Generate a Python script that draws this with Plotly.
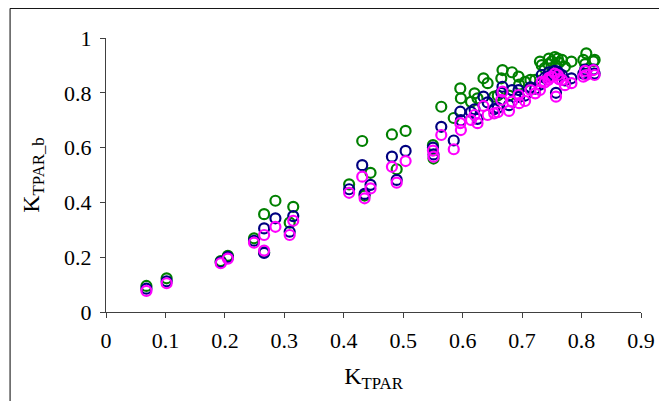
import plotly.graph_objects as go

# Observed K_TPAR (x) and three modelled K_TPAR_b series
k_tpar = [0.068, 0.102, 0.193, 0.205, 0.249, 0.266, 0.266, 0.285, 0.309, 0.315,
          0.409, 0.431, 0.435, 0.445, 0.481, 0.489, 0.504, 0.550, 0.551, 0.564, 0.585,
          0.596, 0.597, 0.614, 0.620, 0.625, 0.635, 0.642, 0.653, 0.659, 0.667,
          0.665, 0.678, 0.683, 0.694, 0.695, 0.705, 0.714, 0.722, 0.730, 0.733,
          0.738, 0.744, 0.745, 0.750, 0.755, 0.757, 0.760, 0.762, 0.767, 0.772,
          0.783, 0.803, 0.806, 0.808, 0.820, 0.822]

green = [0.095, 0.123, 0.186, 0.205, 0.269, 0.357, 0.218, 0.406, 0.326, 0.384,
         0.466, 0.624, 0.425, 0.508, 0.648, 0.521, 0.661, 0.609, 0.560, 0.749, 0.708,
         0.816, 0.780, 0.767, 0.798, 0.780, 0.853, 0.835, 0.786, 0.790, 0.883,
         0.853, 0.790, 0.875, 0.859, 0.830, 0.840, 0.847, 0.847, 0.914, 0.901,
         0.890, 0.905, 0.925, 0.915, 0.930, 0.900, 0.925, 0.910, 0.920, 0.895,
         0.914, 0.920, 0.905, 0.944, 0.915, 0.920]

navy = [0.085, 0.112, 0.182, 0.200, 0.260, 0.305, 0.216, 0.342, 0.293, 0.350,
        0.448, 0.536, 0.431, 0.464, 0.567, 0.482, 0.588, 0.600, 0.575, 0.676, 0.626,
        0.731, 0.700, 0.730, 0.740, 0.705, 0.786, 0.765, 0.740, 0.745, 0.822,
        0.800, 0.755, 0.810, 0.810, 0.785, 0.790, 0.820, 0.815, 0.830, 0.865,
        0.855, 0.860, 0.875, 0.870, 0.880, 0.800, 0.877, 0.870, 0.865, 0.845,
        0.853, 0.870, 0.885, 0.880, 0.885, 0.870]

magenta = [0.077, 0.105, 0.178, 0.195, 0.253, 0.281, 0.224, 0.311, 0.281, 0.333,
           0.435, 0.494, 0.415, 0.451, 0.530, 0.472, 0.551, 0.589, 0.567, 0.646, 0.594,
           0.689, 0.664, 0.701, 0.719, 0.689, 0.752, 0.719, 0.725, 0.729, 0.804,
           0.774, 0.734, 0.768, 0.792, 0.762, 0.770, 0.810, 0.798, 0.810, 0.840,
           0.838, 0.847, 0.855, 0.859, 0.870, 0.786, 0.865, 0.850, 0.847, 0.828,
           0.835, 0.859, 0.880, 0.865, 0.883, 0.865]

x_ticks = [0, 0.1, 0.2, 0.3, 0.4, 0.5, 0.6, 0.7, 0.8, 0.9]
y_ticks = [0, 0.2, 0.4, 0.6, 0.8, 1]

series = [("green", green, "#008000"), ("navy", navy, "#000080"), ("magenta", magenta, "#FF00FF")]

fig = go.Figure()
for name, ys, col in series:
    fig.add_trace(go.Scatter(
        x=k_tpar, y=ys, mode="markers", name=name,
        marker=dict(symbol="circle-open", size=10, color=col, line=dict(width=2.2, color=col)),
        showlegend=False, cliponaxis=False))

font_family = "Liberation Serif"
axis_common = dict(
    showgrid=False, zeroline=False, showline=True, linecolor="#404040", linewidth=1,
    ticks="outside", ticklen=5, tickcolor="#404040", tickwidth=1,
    tickfont=dict(family=font_family, size=22, color="black"),
)

fig.update_layout(
    width=659, height=393,
    margin=dict(l=98, r=20, t=30, b=89),
    font=dict(family=font_family, size=22, color="black"),
    paper_bgcolor="white", plot_bgcolor="white",
    xaxis=dict(range=[0, 0.9], tickvals=x_ticks, ticktext=[f"{v:g}" for v in x_ticks],
               ticklabelstandoff=4,
               title=dict(text="K<sub>TPAR</sub>", font=dict(family=font_family, size=24, color="black"),
                          standoff=14),
               **axis_common),
    yaxis=dict(range=[0, 1], tickvals=y_ticks, ticktext=[f"{v:g}" for v in y_ticks],
               ticklabelstandoff=4,
               title=dict(text="K<sub>TPAR_b</sub>", font=dict(family=font_family, size=24, color="black"),
                          standoff=17),
               **axis_common),
    shapes=[dict(type="rect", xref="paper", yref="paper",
                 x0=-0.1793, x1=1.2, y0=-0.6, y1=1.108,
                 line=dict(color="black", width=1), fillcolor="rgba(0,0,0,0)", layer="below")],
)

fig.write_html("out.html")
